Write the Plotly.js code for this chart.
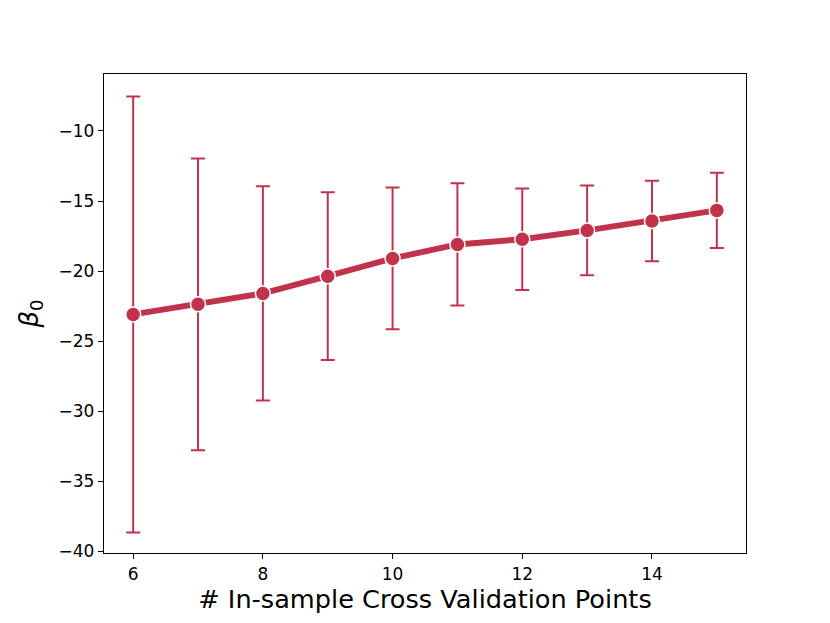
<!DOCTYPE html>
<html>
<head>
<meta charset="utf-8">
<script src="https://cdn.plot.ly/plotly-3.0.1.min.js"></script>
<style>html,body{margin:0;padding:0;background:#fff;}#chart{width:830px;height:623px;}</style>
</head>
<body>
<div id="chart"></div>
<script>
const cvPoints = [6, 7, 8, 9, 10, 11, 12, 13, 14, 15];
const beta0Mean = [-23.1, -22.38, -21.6, -20.37, -19.1, -18.1, -17.73, -17.1, -16.43, -15.67];
const beta0Err = [15.57, 10.42, 7.65, 5.99, 5.06, 4.36, 3.62, 3.2, 2.88, 2.69];
const xTicks = [6, 8, 10, 12, 14];
const yTicks = [-40, -35, -30, -25, -20, -15, -10];

const color = '#c1334a';

const trace = {
  x: cvPoints,
  y: beta0Mean,
  type: 'scatter',
  mode: 'lines+markers',
  line: {color: color, width: 6},
  marker: {color: color, size: 15, line: {color: '#ffffff', width: 1.5}},
  error_y: {type: 'data', array: beta0Err, visible: true, color: color, thickness: 2, width: 7},
  hoverinfo: 'skip'
};

const layout = {
  width: 830,
  height: 623,
  margin: {l: 104, r: 84, t: 74, b: 70},
  paper_bgcolor: '#ffffff',
  plot_bgcolor: '#ffffff',
  showlegend: false,
  font: {family: 'DejaVu Sans', color: '#000000'},
  xaxis: {
    range: [5.55, 15.45],
    tickvals: xTicks,
    ticktext: xTicks.map(String),
    ticks: 'outside', ticklen: 5, tickwidth: 1, tickcolor: '#000',
    showline: true, mirror: true, linecolor: '#000', linewidth: 1.2,
    showgrid: false, zeroline: false,
    tickfont: {size: 17, family: 'DejaVu Sans'},
    title: {text: '# In-sample Cross Validation Points', font: {size: 25.6, family: 'DejaVu Sans'}, standoff: 6}
  },
  yaxis: {
    range: [-40.14, -5.93],
    tickvals: yTicks,
    ticktext: yTicks.map(v => v < 0 ? '\u2212' + Math.abs(v) : String(v)),
    ticks: 'outside', ticklen: 5, tickwidth: 1, tickcolor: '#000',
    showline: true, mirror: true, linecolor: '#000', linewidth: 1.2,
    showgrid: false, zeroline: false,
    tickfont: {size: 17, family: 'DejaVu Sans'},
    title: {text: '<i>β</i><sub>0</sub>', font: {size: 26, family: 'DejaVu Sans'}, standoff: 12}
  }
};

Plotly.newPlot('chart', [trace], layout, {displayModeBar: false, staticPlot: true});
</script>
</body>
</html>
